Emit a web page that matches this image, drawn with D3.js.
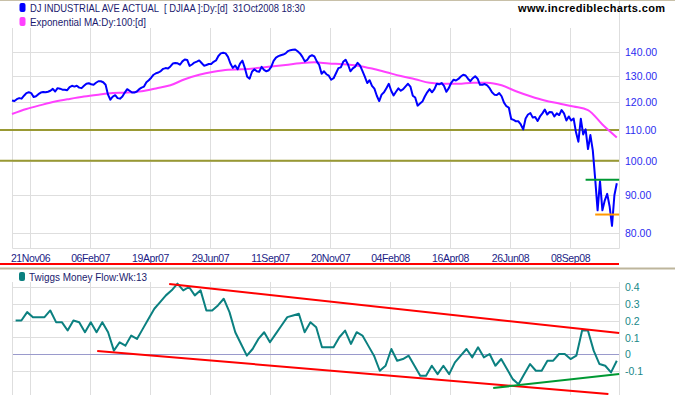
<!DOCTYPE html>
<html>
<head>
<meta charset="utf-8">
<script src="https://cdn.jsdelivr.net/npm/d3@7"></script>
<style>
	body { margin: 0; background: #fff; }
	text { font-family: "Liberation Sans", Arial, sans-serif; }
</style>
</head>
<body>
<div class="chart"></div>
<script>
var width = 675, height = 395;

// DJIA / 100, one value every 2 trading days from 31Oct06 (day 0) to 31Oct08 (day 504)
var price = [
	120.5, 120.3, 121.0, 121.4, 121.2, 122.3, 123.3, 123.6, 123.3, 121.8,
	122.1, 122.9, 123.5, 123.7, 123.6, 123.8, 124.2, 124.9, 123.9, 125.2,
	125.0, 124.6, 124.6, 124.4, 125.6, 126.1, 125.8, 126.1, 125.4, 125.2,
	126.1, 126.9, 127.1, 126.7, 126.5, 127.3, 127.9, 127.9, 127.5, 126.5,
	122.7, 120.8, 122.0, 122.5, 121.4, 121.2, 122.0, 123.5, 124.8, 124.2,
	123.5, 123.5, 123.9, 124.8, 125.4, 125.8, 127.5, 128.3, 129.3, 130.5,
	131.1, 131.4, 132.0, 132.9, 133.2, 133.0, 133.9, 135.1, 135.3, 135.2,
	134.6, 136.0, 136.8, 136.6, 134.1, 134.7, 135.5, 135.9, 136.4, 135.3,
	134.2, 134.5, 134.9, 134.9, 135.8, 136.4, 138.3, 139.4, 139.7, 139.4,
	137.9, 135.1, 133.3, 134.3, 132.7, 135.1, 136.3, 133.3, 129.7, 128.9,
	131.7, 132.7, 131.9, 131.7, 133.7, 132.5, 131.9, 132.3, 133.7, 136.2,
	137.6, 138.2, 138.6, 138.9, 139.4, 140.4, 140.8, 141.0, 141.1, 140.3,
	139.4, 137.9, 136.0, 136.6, 138.1, 138.6, 138.1, 136.0, 134.5, 130.9,
	131.9, 130.7, 130.1, 128.5, 129.1, 131.1, 133.2, 133.5, 135.8, 136.7,
	134.7, 131.9, 133.1, 133.8, 135.4, 134.3, 132.1, 129.7, 127.2, 128.3,
	126.1, 125.0, 122.3, 120.3, 122.7, 123.6, 125.2, 126.9, 124.2, 122.4,
	123.8, 125.1, 124.2, 124.8, 125.9, 126.9, 125.8, 122.3, 121.6, 118.6,
	119.4, 120.1, 122.0, 123.6, 124.8, 123.6, 124.8, 126.9, 126.7, 127.2,
	126.1, 123.8, 125.2, 127.3, 128.5, 128.2, 128.8, 129.8, 130.5, 130.2,
	128.9, 127.9, 129.1, 129.9, 128.9, 126.5, 126.5, 126.8, 126.3, 125.2,
	123.6, 122.7, 122.6, 123.3, 122.1, 119.7, 118.4, 117.9, 113.8, 113.5,
	113.0, 113.0, 111.9, 110.2, 114.0, 115.4, 115.9, 114.3, 114.5, 113.1,
	114.7, 115.8, 117.2, 115.4, 116.3, 116.2, 114.7, 115.8, 115.2, 117.0,
	115.8, 113.3, 114.7, 113.3, 114.0, 109.2, 106.1, 113.9, 108.5, 110.2,
	103.7, 108.3, 103.3, 94.5, 85.8, 93.9, 85.8, 88.5, 90.3, 86.9,
	81.8, 89.9, 93.3
];

// Exponential MA 100, one value every 12 trading days
var ma = [
	115.6, 117.4, 118.8, 120.1, 121.1, 122.0, 122.7, 123.3, 123.5, 124.0,
	125.1, 126.3, 128.7, 130.5, 131.7, 132.5, 132.7, 133.2, 133.9, 134.5,
	135.2, 135.6, 135.1, 134.8, 134.2, 133.0, 131.5, 130.0, 128.7, 127.3,
	126.9, 126.9, 127.3, 127.3, 126.3, 124.0, 122.1, 120.5, 119.4, 118.3,
	117.0, 111.9, 107.5
];

// Twiggs Money Flow 13 week, weekly closes 03Nov06 .. 31Oct08
var tmf = [
	0.20, 0.20, 0.25, 0.22, 0.22, 0.22, 0.26, 0.19, 0.19, 0.14,
	0.20, 0.19, 0.13, 0.19, 0.13, 0.19, 0.13, 0.02, 0.07, 0.05,
	0.11, 0.09, 0.15, 0.21, 0.27, 0.31, 0.35, 0.38, 0.42, 0.38,
	0.40, 0.35, 0.38, 0.26, 0.26, 0.29, 0.33, 0.25, 0.13, 0.06,
	-0.01, 0.03, 0.09, 0.13, 0.07, 0.12, 0.17, 0.22, 0.23, 0.24,
	0.13, 0.19, 0.16, 0.04, 0.04, 0.04, 0.10, 0.14, 0.06, 0.13,
	0.11, 0.05, -0.01, -0.10, -0.07, 0.03, -0.04, -0.03, -0.01, -0.07,
	-0.13, -0.13, -0.07, -0.12, -0.07, -0.12, -0.05, -0.01, 0.03, -0.02,
	0.04, -0.02, 0.00, -0.07, -0.03, -0.09, -0.15, -0.18, -0.12, -0.06,
	-0.10, -0.10, -0.04, -0.04, 0.00, 0.00, -0.03, -0.01, 0.14, 0.14,
	0.02, -0.06, -0.07, -0.11, -0.04
];

var tickDays = [15, 65, 115, 165, 215, 265, 315, 365, 415, 465];
var tickLabels = ['21Nov06', '06Feb07', '19Apr07', '29Jun07', '11Sep07',
	'20Nov07', '04Feb08', '16Apr08', '26Jun08', '08Sep08'];

var priceLevels = [140, 130, 120, 110, 100, 90, 80];
var tmfLevels = [0.4, 0.3, 0.2, 0.1, 0, -0.1];

// drawn lines: [day, value]
var supportLines = [110, 100];
var highLine = [[478, 94.3], [506, 94.3]];
var lowLine = [[486, 84.7], [506, 84.7]];
var tmfUpper = [[131, 0.418], [506, 0.125]];
var tmfLower = [[71, 0.018], [497, -0.239]];
var tmfRising = [[401, -0.203], [506, -0.119]];

var svg = d3.select('.chart')
	.append('svg')
	.attr('width', width)
	.attr('height', height);

svg.append('rect').attr('width', width).attr('height', height).attr('fill', '#fff');

var left = 12, right = 619;
var x = d3.scaleLinear().domain([0, 504]).range([12, 616.8]);
var y = d3.scaleLog().domain([80, 140]).range([233, 52]);
var y2 = d3.scaleLinear().domain([-0.1, 0.4]).range([370.75, 287]);

var grid = '#dedede';

// ---- top panel
var upper = svg.append('g');
upper.selectAll('.vgrid')
	.data(tickDays)
	.enter().append('line')
	.attr('x1', function(d) { return Math.round(x(d)) + 0.5; })
	.attr('x2', function(d) { return Math.round(x(d)) + 0.5; })
	.attr('y1', 28).attr('y2', 248)
	.attr('stroke', grid);

upper.selectAll('.hgrid')
	.data(priceLevels)
	.enter().append('line')
	.attr('x1', left).attr('x2', right)
	.attr('y1', function(d) { return Math.round(y(d)) + 0.5; })
	.attr('y2', function(d) { return Math.round(y(d)) + 0.5; })
	.attr('stroke', grid);

upper.append('path')
	.attr('d', 'M' + (left + 0.5) + ',28V248.5H' + (right + 0.5) + 'V1')
	.attr('fill', 'none')
	.attr('stroke', grid);

upper.selectAll('.support')
	.data(supportLines)
	.enter().append('line')
	.attr('x1', 0).attr('x2', right)
	.attr('y1', function(d) { return y(d); })
	.attr('y2', function(d) { return y(d); })
	.attr('stroke', '#999933')
	.attr('stroke-width', 2);

var maLine = d3.line()
	.x(function(d, i) { return x(i * 12); })
	.y(function(d) { return y(d); })
	.curve(d3.curveMonotoneX);

upper.append('path')
	.attr('d', maLine(ma))
	.attr('fill', 'none')
	.attr('stroke', '#ff40ff')
	.attr('stroke-width', 2);

var priceLine = d3.line()
	.x(function(d, i) { return x(i * 2); })
	.y(function(d) { return y(d); });

upper.append('path')
	.attr('d', priceLine(price))
	.attr('fill', 'none')
	.attr('stroke', '#0000ff')
	.attr('stroke-width', 2)
	.attr('stroke-linejoin', 'round');

var seg = d3.line()
	.x(function(d) { return x(d[0]); })
	.y(function(d) { return y(d[1]); });

upper.append('path').attr('d', seg(highLine)).attr('stroke', '#009933').attr('stroke-width', 2);
upper.append('path').attr('d', seg(lowLine)).attr('stroke', '#ff9900').attr('stroke-width', 2);

var yAxis = upper.append('g')
	.attr('transform', 'translate(' + right + ',0)')
	.call(d3.axisRight(y).tickValues(priceLevels).tickFormat(d3.format('.2f')).tickSize(0).tickPadding(6));
yAxis.select('.domain').remove();
yAxis.selectAll('text')
	.attr('fill', '#2c2cf0')
	.style('font-size', '10.5px')
	.attr('dy', '0.36em');

var xAxis = upper.append('g')
	.attr('transform', 'translate(0,250)')
	.call(d3.axisBottom(x).tickValues(tickDays).tickFormat(function(d, i) { return tickLabels[i]; }).tickSize(0).tickPadding(4.5));
xAxis.select('.domain').remove();
xAxis.selectAll('text')
	.attr('fill', '#1c1c84')
	.style('font-size', '10.5px')
	.style('letter-spacing', '-0.4px');

// legend
upper.append('rect').attr('x', 19.5).attr('y', 3).attr('width', 6).attr('height', 9).attr('rx', 2).attr('fill', '#0000ff');
upper.append('text').attr('x', 30).attr('y', 11.5)
	.attr('fill', '#1a1a6e').style('font-size', '10.5px')
	.attr('textLength', 275).attr('lengthAdjust', 'spacingAndGlyphs')
	.attr('xml:space', 'preserve')
	.text('DJ INDUSTRIAL AVE ACTUAL  [ DJIAA ]:Dy:[d]  31Oct2008 18:30');
upper.append('rect').attr('x', 19.5).attr('y', 17).attr('width', 6).attr('height', 9).attr('rx', 2).attr('fill', '#ff40ff');
upper.append('text').attr('x', 30).attr('y', 25.5)
	.attr('fill', '#1a1a6e').style('font-size', '10.5px')
	.attr('textLength', 116).attr('lengthAdjust', 'spacingAndGlyphs')
	.text('Exponential MA:Dy:100:[d]');

upper.append('text').attr('x', 518).attr('y', 12)
	.attr('fill', '#000').style('font-size', '11px').style('font-weight', 'bold')
	.attr('textLength', 147).attr('lengthAdjust', 'spacing')
	.text('www.incrediblecharts.com');

// separators
svg.append('line').attr('x1', 0).attr('x2', width).attr('y1', 0.5).attr('y2', 0.5).attr('stroke', '#c8c0a8');
svg.append('line').attr('x1', 0).attr('x2', right).attr('y1', 264).attr('y2', 264).attr('stroke', '#ff0000').attr('stroke-width', 2);
svg.append('line').attr('x1', 0).attr('x2', width).attr('y1', 268.5).attr('y2', 268.5).attr('stroke', '#bdb59c').attr('stroke-width', 2);

// ---- bottom panel
var lower = svg.append('g');
lower.selectAll('.vgrid2')
	.data(tickDays)
	.enter().append('line')
	.attr('x1', function(d) { return Math.round(x(d)) + 0.5; })
	.attr('x2', function(d) { return Math.round(x(d)) + 0.5; })
	.attr('y1', 282).attr('y2', height)
	.attr('stroke', grid);

lower.selectAll('.hgrid2')
	.data(tmfLevels)
	.enter().append('line')
	.attr('x1', left).attr('x2', right)
	.attr('y1', function(d) { return Math.round(y2(d)) + 0.5; })
	.attr('y2', function(d) { return Math.round(y2(d)) + 0.5; })
	.attr('stroke', function(d) { return d === 0 ? '#9a9acc' : grid; });

lower.append('path')
	.attr('d', 'M' + (left + 0.5) + ',282V' + height + 'M' + (right + 0.5) + ',282V' + height)
	.attr('stroke', grid);

var tmfLine = d3.line()
	.x(function(d, i) { return x(3 + i * 501 / 104); })
	.y(function(d) { return y2(d); });

lower.append('path')
	.attr('d', tmfLine(tmf))
	.attr('fill', 'none')
	.attr('stroke', '#0b8080')
	.attr('stroke-width', 2)
	.attr('stroke-linejoin', 'round');

var seg2 = d3.line()
	.x(function(d) { return x(d[0]); })
	.y(function(d) { return y2(d[1]); });

lower.append('path').attr('d', seg2(tmfUpper)).attr('stroke', '#ff0000').attr('stroke-width', 2);
lower.append('path').attr('d', seg2(tmfLower)).attr('stroke', '#ff0000').attr('stroke-width', 2);
lower.append('path').attr('d', seg2(tmfRising)).attr('stroke', '#009933').attr('stroke-width', 2);

var y2Axis = lower.append('g')
	.attr('transform', 'translate(' + right + ',0)')
	.call(d3.axisRight(y2).tickValues(tmfLevels)
		.tickFormat(function(d) { return d === 0 ? '0' : d3.format('.1f')(d).replace('\u2212', '-'); })
		.tickSize(0).tickPadding(6));
y2Axis.select('.domain').remove();
y2Axis.selectAll('text')
	.attr('fill', '#188888')
	.style('font-size', '10.5px')
	.attr('dy', '0.36em');

lower.append('rect').attr('x', 19).attr('y', 272).attr('width', 6).attr('height', 9).attr('rx', 2).attr('fill', '#0b8080');
lower.append('text').attr('x', 29).attr('y', 280.5)
	.attr('fill', '#1a1a6e').style('font-size', '10.5px')
	.attr('textLength', 118).attr('lengthAdjust', 'spacingAndGlyphs')
	.text('Twiggs Money Flow:Wk:13');
</script>
</body>
</html>
